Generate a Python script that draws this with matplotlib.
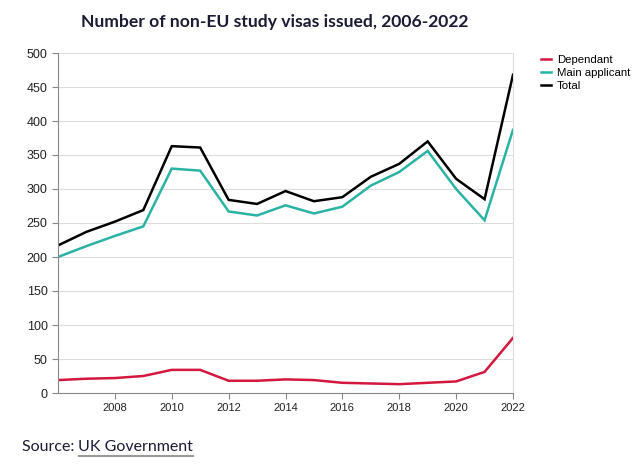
import matplotlib
matplotlib.use("Agg")
import matplotlib.pyplot as plt
from matplotlib.lines import Line2D

years = list(range(2006, 2023))
dependant = [19, 21, 22, 25, 34, 34, 18, 18, 20, 19, 15, 14, 13, 15, 17, 31, 81]
main_applicant = [200, 216, 231, 245, 330, 327, 267, 261, 276, 264, 274, 305, 325, 356, 300, 254, 387]
total = [217, 237, 252, 269, 363, 361, 284, 278, 297, 282, 288, 318, 337, 370, 315, 285, 468]
series_names = ["Dependant", "Main applicant", "Total"]
xtick_years = list(range(2008, 2023, 2))
yticks = list(range(0, 501, 50))

colors = ["#d4173f", "#2ab3a3", "#000000"]

fig = plt.figure(figsize=(6.4, 4.76), dpi=100)
ax = fig.add_axes([58/640, 1-393/476, (513-58)/640, (393-53)/476])

for vals, c, name in zip([dependant, main_applicant, total], colors, series_names):
    ax.plot(years, vals, color=c, lw=1.8, label=name, solid_joinstyle="miter")

ax.set_xlim(2006, 2022)
ax.set_ylim(0, 500)
ax.set_yticks(yticks)
ax.set_xticks(xtick_years)
ax.set_xticklabels([str(y) for y in xtick_years])
ax.grid(axis="y", color="#dddddd", lw=0.8)
ax.set_axisbelow(True)
ax.spines["top"].set_visible(False)
ax.spines["right"].set_color("#dddddd")
ax.spines["right"].set_linewidth(0.8)
ax.spines["left"].set_color("#888888")
ax.spines["bottom"].set_color("#888888")
ax.tick_params(axis="both", colors="#888888", labelcolor="#222222", labelsize=9, length=4, width=0.8)
ax.tick_params(axis="x", labelsize=8, pad=3)
for lab in ax.get_xticklabels() + ax.get_yticklabels():
    lab.set_fontfamily("Liberation Sans")

handles = [Line2D([0], [0], color=c, lw=1.8) for c in colors]
leg = fig.legend(handles, series_names, loc="upper left", bbox_to_anchor=(536/640, 1-50/476),
                 frameon=False, prop={"family": "Liberation Sans", "size": 8.2},
                 handlelength=0.9, handletextpad=0.55, labelspacing=0.3, borderaxespad=0)

fig.text(275/640, 1-22/476, "Number of non-EU study visas issued, 2006-2022",
         ha="center", va="center", fontsize=12.6, fontweight="bold", color="#1b1b33",
         family="Lato")

t1 = fig.text(22/640, 1-447/476, "Source: ", ha="left", va="center", fontsize=11.5,
              color="#1b1b33", family="Lato")
fig.canvas.draw()
r = fig.canvas.get_renderer()
bb = t1.get_window_extent(r)
x2 = bb.x1 / fig.bbox.width
t2 = fig.text(x2, 1-447/476, "UK Government", ha="left", va="center", fontsize=11.5,
              color="#1b1b33", family="Lato")
fig.canvas.draw()
bb2 = t2.get_window_extent(r)
yline = (bb2.y0 - 1.5) / fig.bbox.height
fig.add_artist(Line2D([bb2.x0 / fig.bbox.width, bb2.x1 / fig.bbox.width], [yline, yline],
                      color="#999999", lw=1.5, transform=fig.transFigure))

fig.savefig("out.png", dpi=100)
